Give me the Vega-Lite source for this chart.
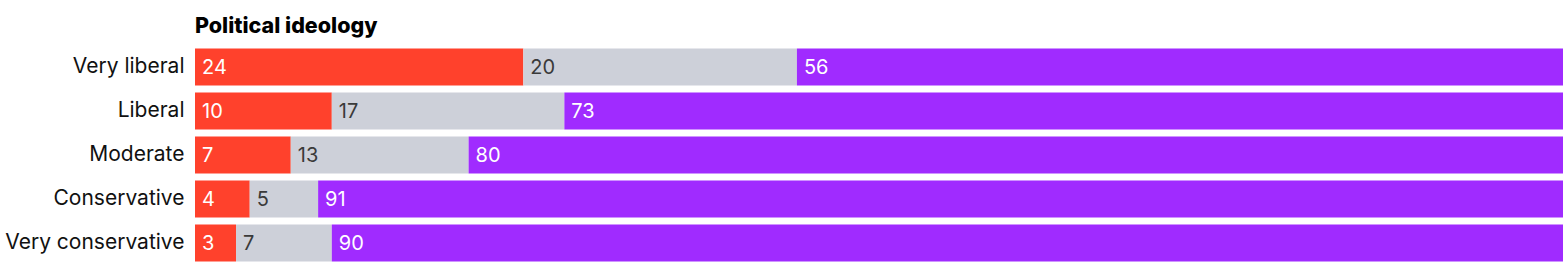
{
  "$schema": "https://vega.github.io/schema/vega-lite/v6.json",
  "width": 1368,
  "height": 220,
  "autosize": {"type": "none"},
  "padding": {"left": 195, "top": 45, "right": 0, "bottom": 6},
  "background": "white",
  "title": {
    "text": "Political ideology",
    "anchor": "start",
    "frame": "group",
    "font": "Inter",
    "fontSize": 21.5,
    "fontWeight": 800,
    "color": "#000000",
    "baseline": "alphabetic",
    "offset": 11,
    "dy": 20
  },
  "data": {
    "values": [
      {"ideology": "Very liberal", "seg": "a", "order": 1, "value": 24},
      {"ideology": "Very liberal", "seg": "b", "order": 2, "value": 20},
      {"ideology": "Very liberal", "seg": "c", "order": 3, "value": 56},
      {"ideology": "Liberal", "seg": "a", "order": 1, "value": 10},
      {"ideology": "Liberal", "seg": "b", "order": 2, "value": 17},
      {"ideology": "Liberal", "seg": "c", "order": 3, "value": 73},
      {"ideology": "Moderate", "seg": "a", "order": 1, "value": 7},
      {"ideology": "Moderate", "seg": "b", "order": 2, "value": 13},
      {"ideology": "Moderate", "seg": "c", "order": 3, "value": 80},
      {"ideology": "Conservative", "seg": "a", "order": 1, "value": 4},
      {"ideology": "Conservative", "seg": "b", "order": 2, "value": 5},
      {"ideology": "Conservative", "seg": "c", "order": 3, "value": 91},
      {"ideology": "Very conservative", "seg": "a", "order": 1, "value": 3},
      {"ideology": "Very conservative", "seg": "b", "order": 2, "value": 7},
      {"ideology": "Very conservative", "seg": "c", "order": 3, "value": 90}
    ]
  },
  "transform": [
    {
      "stack": "value",
      "groupby": ["ideology"],
      "sort": [{"field": "order", "order": "ascending"}],
      "as": ["x0", "x1"]
    }
  ],
  "encoding": {
    "y": {
      "field": "ideology",
      "type": "nominal",
      "sort": ["Very liberal", "Liberal", "Moderate", "Conservative", "Very conservative"],
      "scale": {"paddingInner": 0.16, "paddingOuter": 0.08},
      "axis": {
        "title": null,
        "domain": false,
        "ticks": false,
        "labelFont": "Inter",
        "labelFontSize": 21,
        "labelColor": "#111111",
        "labelPadding": 11
      }
    }
  },
  "layer": [
    {
      "mark": {"type": "bar"},
      "encoding": {
        "x": {"field": "x0", "type": "quantitative", "scale": {"domain": [0, 100], "nice": false, "zero": true}, "axis": null},
        "x2": {"field": "x1"},
        "color": {
          "field": "seg",
          "type": "nominal",
          "scale": {"domain": ["a", "b", "c"], "range": ["#FF412C", "#CDD0D9", "#A02BFF"]},
          "legend": null
        }
      }
    },
    {
      "mark": {"type": "text", "align": "left", "baseline": "middle", "dx": 7, "dy": 1, "font": "Inter", "fontSize": 20},
      "encoding": {
        "x": {"field": "x0", "type": "quantitative", "scale": {"domain": [0, 100], "nice": false, "zero": true}, "axis": null},
        "text": {"field": "value", "type": "quantitative"},
        "color": {
          "field": "seg",
          "type": "nominal",
          "scale": {"domain": ["a", "b", "c"], "range": ["#FFFFFF", "#3A3A3A", "#FFFFFF"]},
          "legend": null
        }
      }
    }
  ],
  "resolve": {"scale": {"color": "independent"}},
  "config": {"view": {"stroke": null}}
}
